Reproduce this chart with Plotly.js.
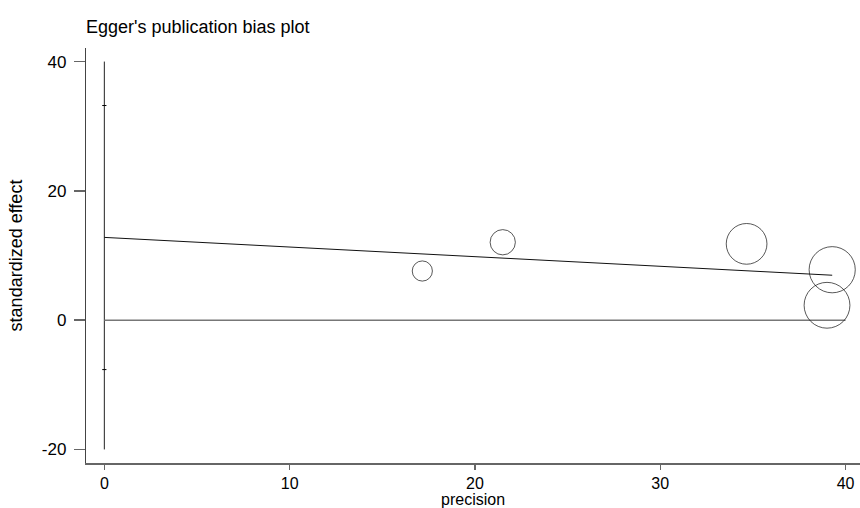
<!DOCTYPE html>
<html>
<head>
<meta charset="utf-8">
<script src="https://cdn.plot.ly/plotly-3.0.1.min.js"></script>
<style>html,body{margin:0;padding:0;background:#fff;}#chart{width:860px;height:508px;}</style>
</head>
<body>
<div id="chart"></div>
<script>
// Study data: precision (1/SE) and standardized effect (effect/SE)
const precision = [17.16, 21.5, 34.66, 39.28, 39.0];
const stdEffect = [7.6, 12.05, 11.8, 7.8, 2.3];

// Egger regression
const eggerIntercept = 12.8;
const eggerSlope = -0.149;
const interceptCI = [-7.65, 33.2];

// Reference lines
const zeroLineX = [0, 40];
const axisSpanY = [-20, 40];

// Ticks
const xTicks = [0, 10, 20, 30, 40];
const yTicks = [-20, 0, 20, 40];

const maxPrec = Math.max(...precision);
const regX = [0, maxPrec];
const regY = regX.map(x => eggerIntercept + eggerSlope * x);

const font = "Liberation Sans, Arial, sans-serif";

const traces = [
  { // vertical line at precision 0
    x: [0, 0], y: axisSpanY, mode: 'lines', type: 'scatter',
    line: {color: '#222', width: 1}, hoverinfo: 'skip', showlegend: false
  },
  { // CI ticks of intercept
    x: interceptCI.map(() => 0), y: interceptCI, mode: 'markers', type: 'scatter',
    marker: {symbol: 'line-ew', size: 3, line: {color: '#000', width: 1}},
    hoverinfo: 'skip', showlegend: false
  },
  { // zero line
    x: zeroLineX, y: [0, 0], mode: 'lines', type: 'scatter',
    line: {color: '#777', width: 1.5}, hoverinfo: 'skip', showlegend: false
  },
  { // regression line
    x: regX, y: regY, mode: 'lines', type: 'scatter',
    line: {color: '#111', width: 1}, hoverinfo: 'skip', showlegend: false
  },
  { // studies
    x: precision, y: stdEffect, mode: 'markers', type: 'scatter',
    marker: {
      symbol: 'circle-open', size: precision, sizemode: 'diameter', sizeref: 1/1.175,
      color: '#111', line: {color: '#111', width: 1}
    },
    showlegend: false
  }
];

const layout = {
  width: 860, height: 508,
  paper_bgcolor: '#fff', plot_bgcolor: '#fff',
  margin: {l: 86, r: 0, t: 48, b: 45},
  font: {family: font, color: '#000', size: 17},
  title: {
    text: "Egger's publication bias plot",
    font: {family: font, size: 18, color: '#000'},
    x: 86/860, xanchor: 'left', xref: 'container',
    y: 1 - 27/508, yanchor: 'middle', yref: 'container'
  },
  xaxis: {
    range: [-0.99, 40.78],
    tickvals: xTicks, ticktext: xTicks.map(String),
    ticks: 'outside', ticklen: 5, tickcolor: '#666', tickwidth: 1.5,
    showline: true, linecolor: '#666', linewidth: 1.5,
    showgrid: false, zeroline: false,
    tickfont: {family: font, size: 16, color: '#000'}
  },
  yaxis: {
    range: [-22.1, 42.1],
    tickvals: yTicks, ticktext: yTicks.map(String),
    ticks: 'outside', ticklen: 11, tickcolor: '#666', tickwidth: 1.5,
    ticklabelstandoff: 4,
    showline: true, linecolor: '#444', linewidth: 1.2,
    showgrid: false, zeroline: false,
    tickfont: {family: font, size: 17, color: '#000'},
    title: {text: 'standardized effect', font: {family: font, size: 18, color: '#000'}, standoff: 14}
  },
  annotations: [{
    text: 'precision', xref: 'paper', yref: 'paper',
    x: 0.5, y: -26/415, xanchor: 'center', yanchor: 'top',
    showarrow: false, font: {family: font, size: 16, color: '#000'}
  }]
};

Plotly.newPlot('chart', traces, layout, {displayModeBar: false, staticPlot: true});
</script>
</body>
</html>
